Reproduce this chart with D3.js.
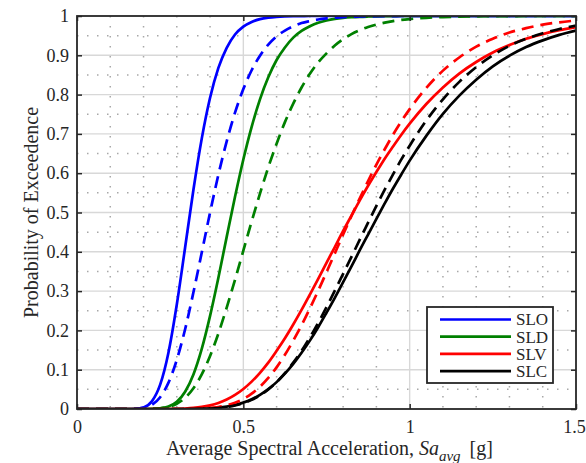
<!DOCTYPE html>
<html>
<head>
<meta charset="utf-8">
<script src="https://cdn.jsdelivr.net/npm/d3@7"></script>
<style>
  html, body { margin: 0; padding: 0; background: #fff; }
  svg { display: block; }
  text { font-family: "Liberation Serif", "Times New Roman", serif; }
</style>
</head>
<body>
<div id="chart"></div>
<script>
// Sa_avg values [g] where the curves were read
const saGrid = [0, 0.025, 0.05, 0.075, 0.1, 0.125, 0.15, 0.175, 0.2, 0.225, 0.25, 0.275, 0.3, 0.325, 0.35, 0.375,
    0.4, 0.425, 0.45, 0.475, 0.5, 0.525, 0.55, 0.575, 0.6, 0.625, 0.65, 0.675, 0.7, 0.725, 0.75, 0.775, 0.8, 0.825,
    0.85, 0.875, 0.9, 0.925, 0.95, 0.975, 1.0, 1.05, 1.1, 1.15, 1.2, 1.25, 1.3, 1.35, 1.4, 1.45, 1.5];

// probability of exceedence, solid curves
const sloSolid = [0, 0, 0, 0, 0, 0, 0, 0.0005, 0.004, 0.0195, 0.062, 0.144, 0.266, 0.411, 0.558, 0.688, 0.792, 0.868,
    0.919, 0.953, 0.973, 0.985, 0.992, 0.9957, 0.9977, 0.9988, 0.9994, 0.9997, 1, 1, 1, 1, 1, 1, 1, 1, 1, 1, 1, 1, 1,
    1, 1, 1, 1, 1, 1, 1, 1, 1, 1];
const sldSolid = [0, 0, 0, 0, 0, 0, 0, 0, 0, 0.0003, 0.0016, 0.0062, 0.0184, 0.044, 0.088, 0.153, 0.237, 0.334, 0.438,
    0.54, 0.635, 0.718, 0.788, 0.844, 0.888, 0.92, 0.945, 0.962, 0.974, 0.983, 0.9886, 0.9925, 0.9951, 0.9968, 0.998,
    0.9987, 0.9992, 0.9995, 0.9997, 1, 1, 1, 1, 1, 1, 1, 1, 1, 1, 1, 1];
const slvSolid = [0, 0, 0, 0, 0, 0, 0, 0, 0, 0, 0, 0, 0.0005, 0.0013, 0.0027, 0.0052, 0.0093, 0.0154, 0.0241, 0.0359,
    0.051, 0.0697, 0.0922, 0.118, 0.148, 0.18, 0.215, 0.252, 0.291, 0.331, 0.372, 0.412, 0.453, 0.492, 0.531, 0.568,
    0.603, 0.637, 0.668, 0.698, 0.726, 0.776, 0.818, 0.854, 0.883, 0.907, 0.926, 0.942, 0.954, 0.964, 0.972];
const slcSolid = [0, 0, 0, 0, 0, 0, 0, 0, 0, 0, 0, 0, 0, 0, 0.0003, 0.0008, 0.0017, 0.0033, 0.006, 0.0101, 0.0162,
    0.0247, 0.036, 0.0505, 0.0684, 0.0898, 0.1147, 0.143, 0.174, 0.208, 0.245, 0.283, 0.323, 0.363, 0.404, 0.444,
    0.484, 0.523, 0.561, 0.597, 0.632, 0.695, 0.751, 0.798, 0.838, 0.872, 0.899, 0.921, 0.938, 0.952, 0.963];

// probability of exceedence, dashed curves
const sloDashed = [0, 0, 0, 0, 0, 0, 0, 0.0005, 0.0028, 0.0107, 0.03, 0.067, 0.125, 0.203, 0.297, 0.398, 0.5, 0.596,
    0.681, 0.754, 0.814, 0.862, 0.899, 0.927, 0.948, 0.963, 0.974, 0.982, 0.987, 0.991, 0.994, 0.996, 0.997, 0.998,
    0.9987, 0.9991, 0.9994, 0.9996, 0.9997, 1, 1, 1, 1, 1, 1, 1, 1, 1, 1, 1, 1];
const sldDashed = [0, 0, 0, 0, 0, 0, 0, 0, 0, 0.0005, 0.0018, 0.0055, 0.0135, 0.0285, 0.053, 0.088, 0.135, 0.192,
    0.258, 0.329, 0.403, 0.477, 0.548, 0.615, 0.675, 0.73, 0.777, 0.818, 0.853, 0.882, 0.905, 0.925, 0.941, 0.954,
    0.964, 0.972, 0.978, 0.983, 0.987, 0.99, 0.9922, 0.9954, 0.9973, 0.9985, 0.9991, 0.9995, 0.9997, 1, 1, 1, 1];
const slvDashed = [0, 0, 0, 0, 0, 0, 0, 0, 0, 0, 0, 0, 0, 0, 0.0004, 0.0011, 0.0025, 0.005, 0.0093, 0.0159, 0.0256,
    0.039, 0.0567, 0.079, 0.106, 0.138, 0.174, 0.213, 0.256, 0.301, 0.348, 0.396, 0.444, 0.491, 0.536, 0.58, 0.622,
    0.661, 0.698, 0.732, 0.763, 0.817, 0.861, 0.895, 0.922, 0.942, 0.958, 0.969, 0.978, 0.984, 0.9886];
const slcDashed = [0, 0, 0, 0, 0, 0, 0, 0, 0, 0, 0, 0, 0, 0, 0, 0.0006, 0.0013, 0.0026, 0.005, 0.0089, 0.0148,
    0.0232, 0.0347, 0.0496, 0.0684, 0.091, 0.118, 0.148, 0.182, 0.219, 0.259, 0.301, 0.344, 0.387, 0.431, 0.474,
    0.517, 0.558, 0.597, 0.635, 0.67, 0.734, 0.788, 0.833, 0.87, 0.9, 0.924, 0.942, 0.956, 0.967, 0.9756];

const limitStates = ['SLO', 'SLD', 'SLV', 'SLC'];
const xTicks = [0, 0.5, 1, 1.5];
const yTicks = [0, 0.1, 0.2, 0.3, 0.4, 0.5, 0.6, 0.7, 0.8, 0.9, 1];
const xMinor = [0.1, 0.2, 0.3, 0.4, 0.6, 0.7, 0.8, 0.9, 1.1, 1.2, 1.3, 1.4];
const yMinor = [0.05, 0.15, 0.25, 0.35, 0.45, 0.55, 0.65, 0.75, 0.85, 0.95];

(() => {
    const width = 586;
    const height = 463;
    const margin = { top: 16, right: 10, bottom: 54, left: 77 };
    const innerW = width - margin.left - margin.right;
    const innerH = height - margin.top - margin.bottom;
    const font = '"Liberation Serif", "Times New Roman", serif';
    const axisColor = '#262626';
    const colors = { SLO: '#0000ff', SLD: '#008000', SLV: '#ff0000', SLC: '#000000' };

    const series = [
        { state: 'SLO', values: sloSolid, dashed: false },
        { state: 'SLD', values: sldSolid, dashed: false },
        { state: 'SLV', values: slvSolid, dashed: false },
        { state: 'SLC', values: slcSolid, dashed: false },
        { state: 'SLO', values: sloDashed, dashed: true },
        { state: 'SLD', values: sldDashed, dashed: true },
        { state: 'SLV', values: slvDashed, dashed: true },
        { state: 'SLC', values: slcDashed, dashed: true }
    ];

    const svg = d3.select('#chart').append('svg')
        .attr('width', width)
        .attr('height', height)
        .attr('font-family', font);

    const g = svg.append('g').attr('transform', `translate(${margin.left},${margin.top})`);

    const x = d3.scaleLinear().domain([0, 1.5]).range([0, innerW]);
    const y = d3.scaleLinear().domain([0, 1]).range([innerH, 0]);

    svg.append('defs').append('clipPath').attr('id', 'plot-clip')
        .append('rect').attr('width', innerW).attr('height', innerH);

    // minor dotted grid
    g.selectAll('.minor-x').data(xMinor).enter().append('line')
        .attr('x1', d => x(d)).attr('x2', d => x(d))
        .attr('y1', 0).attr('y2', innerH)
        .attr('stroke', '#a8a8a8').attr('stroke-width', 1.5)
        .attr('stroke-dasharray', '1.5,8.5');
    g.selectAll('.minor-y').data(yMinor).enter().append('line')
        .attr('x1', 0).attr('x2', innerW)
        .attr('y1', d => y(d)).attr('y2', d => y(d))
        .attr('stroke', '#a8a8a8').attr('stroke-width', 1.5)
        .attr('stroke-dasharray', '1.5,8.5');

    // major grid
    g.selectAll('.major-x').data(xTicks.slice(1, -1)).enter().append('line')
        .attr('x1', d => x(d)).attr('x2', d => x(d))
        .attr('y1', 0).attr('y2', innerH)
        .attr('stroke', '#d8d8d8').attr('stroke-width', 1.4);
    g.selectAll('.major-y').data(yTicks.slice(1, -1)).enter().append('line')
        .attr('x1', 0).attr('x2', innerW)
        .attr('y1', d => y(d)).attr('y2', d => y(d))
        .attr('stroke', '#d8d8d8').attr('stroke-width', 1.4);

    const line = d3.line()
        .x((d, i) => x(saGrid[i]))
        .y(d => y(d))
        .curve(d3.curveMonotoneX);

    g.append('g').attr('clip-path', 'url(#plot-clip)')
        .selectAll('path').data(series).enter().append('path')
        .attr('d', d => line(d.values))
        .attr('fill', 'none')
        .attr('stroke', d => colors[d.state])
        .attr('stroke-width', 2.7)
        .attr('stroke-dasharray', d => d.dashed ? '12,7' : null);

    // axes: inward ticks on all four sides
    const styleAxis = sel => {
        sel.attr('font-family', font).attr('font-size', 18);
        sel.select('.domain').remove();
        sel.selectAll('.tick line').attr('stroke', axisColor).attr('stroke-width', 1.5);
        sel.selectAll('.tick text').attr('fill', '#262626');
    };

    const xAxis = g.append('g').attr('transform', `translate(0,${innerH})`)
        .call(d3.axisBottom(x).tickValues(xTicks).tickFormat(d3.format('')).tickSizeInner(-5).tickSizeOuter(0).tickPadding(11))
        .call(styleAxis);
    // last label sits against the window edge
    xAxis.selectAll('.tick text').filter(d => d === 1.5).attr('dx', -2);

    g.append('g')
        .call(d3.axisTop(x).tickValues(xTicks).tickFormat('').tickSizeInner(-5).tickSizeOuter(0))
        .call(styleAxis);
    g.append('g')
        .call(d3.axisLeft(y).tickValues(yTicks).tickFormat(d3.format('')).tickSizeInner(-5).tickSizeOuter(0).tickPadding(8))
        .call(styleAxis);
    g.append('g').attr('transform', `translate(${innerW},0)`)
        .call(d3.axisRight(y).tickValues(yTicks).tickFormat('').tickSizeInner(-5).tickSizeOuter(0))
        .call(styleAxis);

    g.append('rect')
        .attr('width', innerW).attr('height', innerH)
        .attr('fill', 'none')
        .attr('stroke', axisColor)
        .attr('stroke-width', 1.8);

    // axis titles
    const xTitle = svg.append('text')
        .attr('x', margin.left + innerW / 2 + 3)
        .attr('y', 455)
        .attr('text-anchor', 'middle')
        .attr('fill', '#262626')
        .attr('font-size', 20);
    xTitle.append('tspan').text('Average Spectral Acceleration, ');
    xTitle.append('tspan').attr('font-style', 'italic').text('Sa');
    xTitle.append('tspan').attr('font-style', 'italic').attr('font-size', 15)
        .attr('dy', 6).text('avg');
    xTitle.append('tspan').attr('dy', -6).text('\u2009 [g]');

    svg.append('text')
        .attr('transform', `translate(38,${margin.top + innerH / 2}) rotate(-90)`)
        .attr('text-anchor', 'middle')
        .attr('fill', '#262626')
        .attr('font-size', 20)
        .text('Probability of Exceedence');

    // legend
    const legend = svg.append('g').attr('transform', 'translate(427,307)');
    legend.append('rect')
        .attr('width', 126).attr('height', 76)
        .attr('fill', '#fff')
        .attr('stroke', axisColor)
        .attr('stroke-width', 1.8);
    const items = legend.selectAll('.item').data(limitStates).enter().append('g')
        .attr('transform', (d, i) => `translate(0,${12.5 + i * 17.2})`);
    items.append('line')
        .attr('x1', 13).attr('x2', 84)
        .attr('stroke', d => colors[d])
        .attr('stroke-width', 2.7);
    items.append('text')
        .attr('x', 89).attr('dy', '0.35em')
        .attr('fill', '#262626')
        .attr('font-size', 17)
        .text(d => d);
})();
</script>
</body>
</html>
